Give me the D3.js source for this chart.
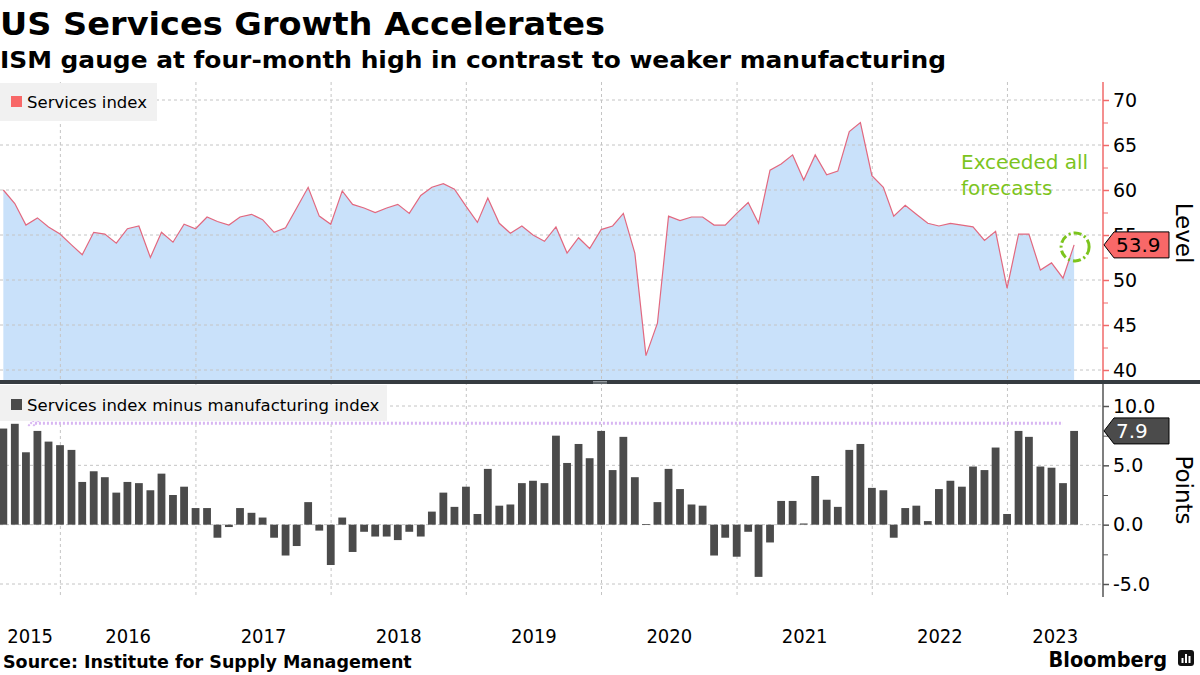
<!DOCTYPE html>
<html lang="en">
<head>
<meta charset="utf-8">
<style>
    body { margin: 0; background: #fff; }
    svg text { font-family: "DejaVu Sans", sans-serif; }
    .grid { stroke: #c4c4c4; stroke-dasharray: 3,3; stroke-width: 1; }
</style>
<script src="https://d3js.org/d3.v7.min.js"></script>
</head>
<body>
<script>
    var width = 1200, height = 675;
    var axisX = 1103;
    var topY0 = 82, sepY = 380, botY0 = 384, botY1 = 597;

    // ISM services index, monthly from Jul 2015 to Jun 2023
    var services = [
        60.0, 58.5, 56.1, 56.9, 55.9, 55.1, 53.9, 52.8, 55.3, 55.1,
        54.1, 55.7, 56.0, 52.5, 55.3, 54.2, 56.2, 55.7, 57.0, 56.5,
        56.1, 57.0, 57.3, 56.7, 55.3, 55.8, 58.0, 60.3, 57.1, 56.2,
        59.9, 58.4, 58.0, 57.5, 58.0, 58.4, 57.4, 59.4, 60.3, 60.7,
        60.1, 58.2, 56.4, 59.1, 56.3, 55.2, 56.0, 55.0, 54.3, 55.9,
        53.0, 54.7, 53.5, 55.6, 56.0, 57.4, 53.0, 41.6, 45.2, 57.1,
        56.6, 57.0, 57.0, 56.1, 56.1, 57.4, 58.6, 56.3, 62.2, 62.9,
        63.9, 61.1, 63.9, 61.7, 62.1, 66.5, 67.5, 61.6, 60.3, 57.1,
        58.3, 57.3, 56.3, 56.0, 56.3, 56.1, 55.9, 54.4, 55.4, 49.1,
        55.1, 55.1, 51.1, 51.9, 50.2, 53.9
    ];
    // services minus manufacturing
    var spread = [
        8.1, 8.5, 6.1, 7.9, 7.0, 6.7, 6.3, 3.6, 4.5, 4.0,
        2.7, 3.6, 3.5, 2.9, 4.3, 2.5, 3.2, 1.4, 1.4, -1.1,
        -0.2, 1.4, 1.0, 0.6, -1.1, -2.6, -1.8, 1.9, -0.5, -3.4,
        0.6, -2.3, -0.6, -1.0, -1.0, -1.3, -0.6, -1.0, 1.1, 2.7,
        1.5, 3.2, 0.9, 4.7, 1.6, 1.7, 3.5, 3.7, 3.5, 7.5,
        5.2, 6.8, 5.6, 7.9, 4.6, 7.4, 4.0, 0.05, 1.9, 4.7,
        3.0, 1.7, 1.6, -2.6, -1.1, -2.7, -0.6, -4.4, -1.5, 2.0,
        2.0, 0.1, 4.1, 2.1, 1.5, 6.3, 6.8, 3.1, 2.9, -1.1,
        1.4, 1.6, 0.3, 3.0, 3.7, 3.2, 4.9, 4.6, 6.5, 0.9,
        7.9, 7.4, 4.9, 4.8, 3.5, 7.9
    ];
    var yearLabels = ["2015", "2016", "2017", "2018", "2019", "2020", "2021", "2022", "2023"];
    var levelTicks = [40, 45, 50, 55, 60, 65, 70];
    var pointTicks = [-5, 0, 5, 10];
    var priorHigh = 8.55;
    var lastLevel = 53.9, lastSpread = 7.9;

    // each value sits at the end of its month
    var months = services.map(function(d, i) { return new Date(2015, 7 + i, 0); });

    var svg = d3.select("body").append("svg")
        .attr("width", width).attr("height", height);

    var x = d3.scaleTime()
        .domain([new Date(2015, 6, 22), new Date(2023, 8, 16)])
        .range([0, axisX]);
    var yTop = d3.scaleLinear().domain([40, 70]).range([370, 100]);
    var yBot = d3.scaleLinear().domain([-5, 10]).range([584, 406]);

    // titles
    svg.append("text").attr("x", 0).attr("y", 35)
        .attr("font-size", 32).attr("font-weight", "bold").attr("fill", "#000")
        .attr("textLength", 605).attr("lengthAdjust", "spacingAndGlyphs")
        .text("US Services Growth Accelerates");
    svg.append("text").attr("x", 0).attr("y", 68)
        .attr("font-size", 22.5).attr("font-weight", "bold").attr("fill", "#000")
        .attr("textLength", 946).attr("lengthAdjust", "spacingAndGlyphs")
        .text("ISM gauge at four-month high in contrast to weaker manufacturing");

    // clip for top panel
    svg.append("clipPath").attr("id", "clipTop").append("rect")
        .attr("x", 0).attr("y", topY0).attr("width", axisX).attr("height", sepY - topY0);

    // top area + line
    var area = d3.area()
        .x(function(d, i) { return x(months[i]); })
        .y0(sepY)
        .y1(function(d) { return yTop(d); });
    var line = d3.line()
        .x(function(d, i) { return x(months[i]); })
        .y(function(d) { return yTop(d); });

    svg.append("path").datum(services)
        .attr("clip-path", "url(#clipTop)")
        .attr("d", area).attr("fill", "#c9e1fa");

    // horizontal grid
    svg.selectAll(".hgTop").data(levelTicks).enter().append("line")
        .attr("class", "grid")
        .attr("x1", 0).attr("x2", axisX)
        .attr("y1", function(d) { return yTop(d); })
        .attr("y2", function(d) { return yTop(d); });
    svg.selectAll(".hgBot").data(pointTicks).enter().append("line")
        .attr("class", "grid")
        .attr("x1", 0).attr("x2", axisX)
        .attr("y1", function(d) { return yBot(d); })
        .attr("y2", function(d) { return yBot(d); });

    // vertical grid at year starts
    var yearStarts = d3.range(2016, 2024).map(function(y) { return new Date(y, 0, 1); });
    svg.selectAll(".vg").data(yearStarts).enter().append("line")
        .attr("class", "grid")
        .attr("x1", function(d) { return x(d); })
        .attr("x2", function(d) { return x(d); })
        .attr("y1", topY0).attr("y2", botY1);

    svg.append("path").datum(services)
        .attr("clip-path", "url(#clipTop)")
        .attr("d", line).attr("fill", "none")
        .attr("stroke", "#e2687f").attr("stroke-width", 1.2);

    // bars
    var barW = 7.8;
    svg.selectAll(".bar").data(spread).enter().append("rect")
        .attr("class", "bar")
        .attr("x", function(d, i) { return x(months[i]) - barW / 2; })
        .attr("width", barW)
        .attr("y", function(d) { return yBot(Math.max(0, d)); })
        .attr("height", function(d) { return Math.max(0.8, Math.abs(yBot(d) - yBot(0))); })
        .attr("fill", "#4b4b4b");

    // prior high dotted line
    var hx0 = x(months[2]) + 9, hx1 = x(months[94]);
    svg.append("line")
        .attr("x1", hx0).attr("x2", hx1)
        .attr("y1", yBot(priorHigh)).attr("y2", yBot(priorHigh))
        .attr("stroke", "#d8b6f2").attr("stroke-width", 3)
        .attr("stroke-dasharray", "2,2");
    svg.append("path")
        .attr("d", "M" + (hx0 - 1) + "," + (yBot(priorHigh) - 3) +
                   "L" + (hx0 - 7) + "," + (yBot(priorHigh) + 3) +
                   "M" + (hx0 + 4) + "," + (yBot(priorHigh) - 3) +
                   "L" + (hx0 - 2) + "," + (yBot(priorHigh) + 3))
        .attr("stroke", "#d8b6f2").attr("stroke-width", 2)
        .attr("stroke-dasharray", "2,1").attr("fill", "none");

    // separator between panels
    svg.append("rect").attr("x", 0).attr("y", sepY).attr("width", width).attr("height", 4)
        .attr("fill", "#363c41");
    svg.append("line").attr("x1", 593).attr("x2", 607).attr("y1", sepY + 1.5).attr("y2", sepY + 1.5)
        .attr("stroke", "#aab0b5").attr("stroke-width", 0.8);
    svg.append("line").attr("x1", 593).attr("x2", 607).attr("y1", sepY + 3).attr("y2", sepY + 3)
        .attr("stroke", "#aab0b5").attr("stroke-width", 0.8);

    // right axes
    var axTop = svg.append("g").attr("transform", "translate(" + axisX + ",0)")
        .call(d3.axisRight(yTop).tickValues(levelTicks).tickSize(6).tickPadding(4)
              .tickFormat(d3.format("d")));
    axTop.select(".domain").remove();
    axTop.selectAll("line").attr("stroke", "#f06a6a").attr("stroke-width", 1.5);
    axTop.selectAll("text").attr("font-size", 19).attr("fill", "#000")
        .style("font-family", "DejaVu Sans");
    var axTopMinor = svg.append("g").attr("transform", "translate(" + axisX + ",0)")
        .call(d3.axisRight(yTop).tickValues([42.5, 47.5, 52.5, 57.5, 62.5, 67.5]).tickSize(5).tickFormat(""));
    axTopMinor.select(".domain").remove();
    axTopMinor.selectAll("line").attr("stroke", "#f06a6a");
    svg.append("line").attr("x1", axisX).attr("x2", axisX).attr("y1", topY0).attr("y2", sepY)
        .attr("stroke", "#f06a6a").attr("stroke-width", 1.5);

    var axBot = svg.append("g").attr("transform", "translate(" + axisX + ",0)")
        .call(d3.axisRight(yBot).tickValues(pointTicks).tickSize(6).tickPadding(4)
              .tickFormat(function(d) { return d3.format(".1f")(d).replace("\u2212", "-"); }));
    axBot.select(".domain").remove();
    axBot.selectAll("line").attr("stroke", "#555").attr("stroke-width", 1.5);
    axBot.selectAll("text").attr("font-size", 19).attr("fill", "#000")
        .style("font-family", "DejaVu Sans");
    var axBotMinor = svg.append("g").attr("transform", "translate(" + axisX + ",0)")
        .call(d3.axisRight(yBot).tickValues([-2.5, 2.5, 7.5]).tickSize(5).tickFormat(""));
    axBotMinor.select(".domain").remove();
    axBotMinor.selectAll("line").attr("stroke", "#555");
    svg.append("line").attr("x1", axisX).attr("x2", axisX).attr("y1", botY0).attr("y2", botY1)
        .attr("stroke", "#555").attr("stroke-width", 1.5);

    // axis titles
    svg.append("text").attr("transform", "translate(1176," + 233 + ") rotate(90)")
        .attr("text-anchor", "middle").attr("font-size", 23).attr("fill", "#000").text("Level");
    svg.append("text").attr("transform", "translate(1176," + 490 + ") rotate(90)")
        .attr("text-anchor", "middle").attr("font-size", 23).attr("fill", "#000").text("Points");

    // value tags
    function tag(yv, label, fill, color) {
        var h = 26, x0 = axisX + 1, x1 = axisX + 11, x2 = 1169;
        svg.append("path")
            .attr("d", "M" + x0 + "," + yv + "L" + x1 + "," + (yv - h / 2) + "L" + x2 + "," + (yv - h / 2) +
                       "L" + x2 + "," + (yv + h / 2) + "L" + x1 + "," + (yv + h / 2) + "Z")
            .attr("fill", fill).attr("stroke", "#000").attr("stroke-width", 1);
        svg.append("text").attr("x", x1 + 2).attr("y", yv + 7)
            .attr("font-size", 20).attr("fill", color).text(label);
    }
    tag(yTop(lastLevel), d3.format(".1f")(lastLevel), "#f86868", "#000");
    tag(yBot(lastSpread), d3.format(".1f")(lastSpread), "#4b4b4b", "#fff");

    // annotation
    var lastX = x(months[months.length - 1]), lastY = yTop(lastLevel);
    svg.append("circle").attr("cx", lastX + 1).attr("cy", lastY + 2).attr("r", 14)
        .attr("fill", "none").attr("stroke", "#7cc41d").attr("stroke-width", 3)
        .attr("stroke-dasharray", "8,3,2,3");
    svg.append("text").attr("x", 961).attr("y", 169).attr("font-size", 20).attr("fill", "#7cc41d")
        .text("Exceeded all");
    svg.append("text").attr("x", 961).attr("y", 195).attr("font-size", 20).attr("fill", "#7cc41d")
        .text("forecasts");

    // legends
    svg.append("rect").attr("x", 0).attr("y", 83).attr("width", 157).attr("height", 38).attr("fill", "#f1f1f1");
    svg.append("rect").attr("x", 11).attr("y", 96).attr("width", 11).attr("height", 11).attr("fill", "#f86868");
    svg.append("text").attr("x", 27).attr("y", 108).attr("font-size", 16.5).attr("fill", "#000").text("Services index");

    svg.append("rect").attr("x", 0).attr("y", 385).attr("width", 387).attr("height", 36).attr("fill", "#f1f1f1");
    svg.append("rect").attr("x", 11).attr("y", 399).attr("width", 11).attr("height", 11).attr("fill", "#4b4b4b");
    svg.append("text").attr("x", 27).attr("y", 411).attr("font-size", 16.5).attr("fill", "#000")
        .text("Services index minus manufacturing index");

    // year labels centered on visible part of each year
    svg.selectAll(".year").data(yearLabels).enter().append("text")
        .attr("class", "year")
        .attr("x", function(d) {
            var a = Math.max(0, x(new Date(+d, 0, 1)));
            var b = Math.min(axisX, x(new Date(+d + 1, 0, 1)));
            return (a + b) / 2;
        })
        .attr("y", 643).attr("text-anchor", "middle").attr("font-size", 20)
        .style("font-family", "DejaVu Sans Condensed").attr("fill", "#000")
        .text(function(d) { return d; });

    // footer
    svg.append("text").attr("x", 3).attr("y", 668).attr("font-size", 17.5).attr("font-weight", "bold")
        .attr("fill", "#000").text("Source: Institute for Supply Management");
    svg.append("text").attr("x", 1167).attr("y", 667).attr("text-anchor", "end")
        .attr("font-size", 21.5).attr("font-weight", "bold").style("font-family", "DejaVu Sans Condensed")
        .attr("fill", "#000").text("Bloomberg");
    var logo = svg.append("g").attr("transform", "translate(1178,650)");
    logo.append("rect").attr("width", 16).attr("height", 16).attr("rx", 3).attr("fill", "#111");
    logo.selectAll("rect.b").data([5, 9, 7]).enter().append("rect").attr("class", "b")
        .attr("x", function(d, i) { return 3.5 + i * 3.5; }).attr("y", function(d) { return 13 - d; })
        .attr("width", 2).attr("height", function(d) { return d; }).attr("fill", "#fff");
</script>
</body>
</html>
